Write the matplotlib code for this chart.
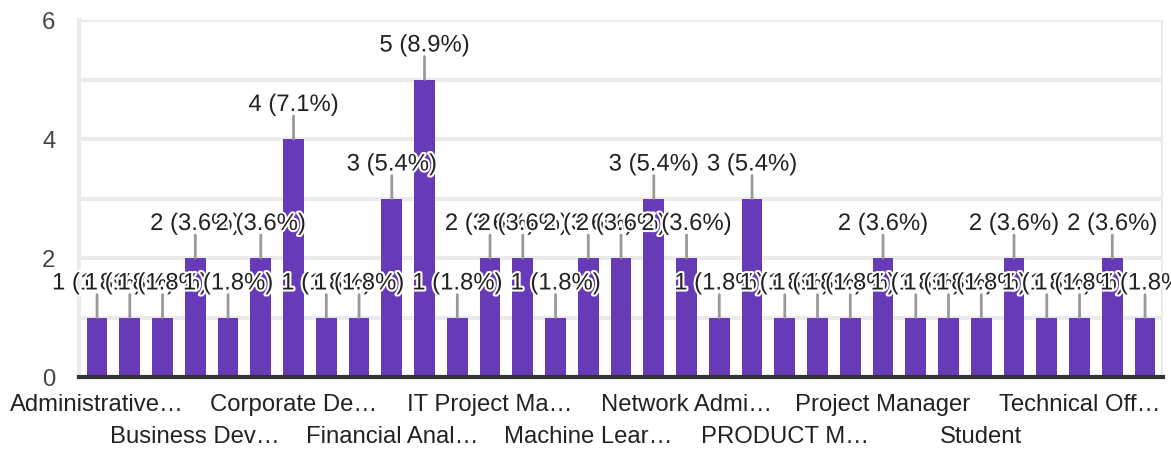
import matplotlib.pyplot as plt
import matplotlib.patheffects as pe
import numpy as np

# responses per job title, alphabetical order
counts = [1, 1, 1, 2, 1, 2, 4, 1, 1, 3,
          5, 1, 2, 2, 1, 2, 2, 3, 2, 1, 3,
          1, 1, 1, 2, 1, 1, 1, 2, 1, 1, 2, 1]

# only every third category gets an axis label
tick_labels = ['Administrative…', 'Business Dev…', 'Corporate De…',
               'Financial Anal…', 'IT Project Ma…', 'Machine Lear…',
               'Network Admi…', 'PRODUCT M…', 'Project Manager',
               'Student', 'Technical Off…']

y_ticks = [0, 2, 4, 6]

PURPLE = '#673AB7'
GRID = '#ebebeb'
STEM = '#999999'
TEXT = '#222222'
FS = 17.2

plt.rcParams['font.family'] = ['Liberation Sans', 'DejaVu Sans']

total = sum(counts)
x = np.arange(len(counts))

fig = plt.figure(figsize=(11.71, 4.5), dpi=100)
ax = fig.add_axes([0.0675, 0.1622, 0.9257, 0.7933])

ax.bar(x, counts, width=0.63, color=PURPLE, zorder=2)

ax.set_xlim(-0.55, len(counts) - 0.45)
ax.set_ylim(0, 6)

# horizontal grid at every unit, labels at even values only
ax.set_yticks(y_ticks)
ax.set_yticks([1, 3, 5], minor=True)
ax.grid(axis='y', which='both', color=GRID, linewidth=3, zorder=0)
ax.tick_params(axis='y', which='both', length=0, pad=17, labelsize=FS,
               labelcolor='#444444')
ax.set_xticks([])

for side in ['top', 'right']:
    ax.spines[side].set_visible(False)
ax.spines['left'].set_color(GRID)
ax.spines['left'].set_linewidth(3)
ax.axvline(ax.get_xlim()[1], color=GRID, linewidth=3, zorder=0)
ax.spines['bottom'].set_color('#333333')
ax.spines['bottom'].set_linewidth(3)
ax.spines['bottom'].set_zorder(3)

# value labels with a short stem above each bar
halo = [pe.withStroke(linewidth=3, foreground='white')]
for xi, v in zip(x, counts):
    ax.annotate('', xy=(xi, v), xytext=(0, 16.5), textcoords='offset points',
                arrowprops=dict(arrowstyle='-', color=STEM, lw=2,
                                shrinkA=0, shrinkB=0),
                annotation_clip=False, zorder=4)
    ax.annotate(f'{v} ({v / total * 100:.1f}%)', xy=(xi, v),
                xytext=(0, 24.5), textcoords='offset points',
                ha='center', va='center', fontsize=FS, color=TEXT,
                path_effects=halo, annotation_clip=False, zorder=5)

# staggered category labels under the axis
trans = ax.get_xaxis_transform()
for i, lab in enumerate(tick_labels):
    row_y = -0.078 if i % 2 == 0 else -0.168
    ax.text(x[i * 3], row_y, lab, transform=trans, ha='center', va='center',
            fontsize=FS, color=TEXT)

fig.savefig('out.png', dpi=100)
